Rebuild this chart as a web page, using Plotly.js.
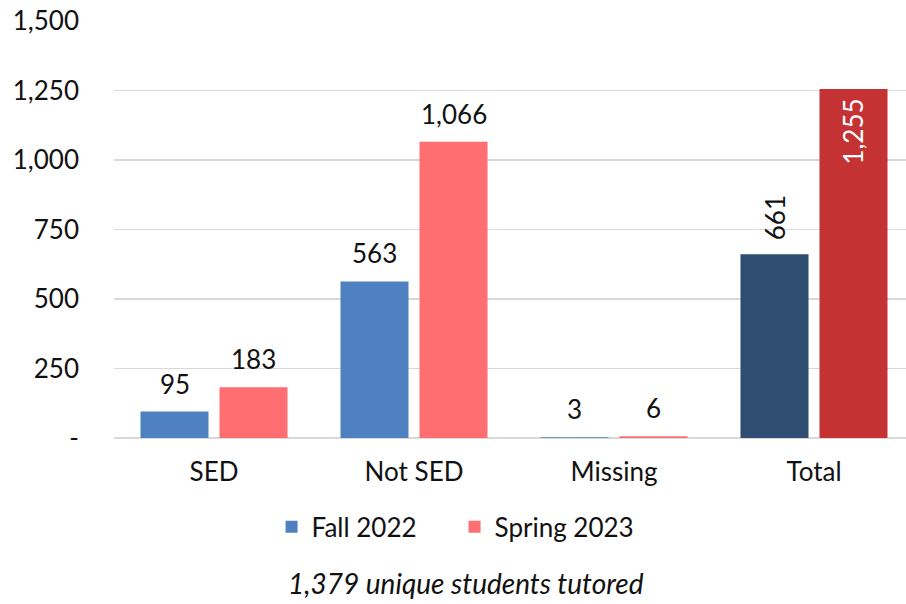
<!DOCTYPE html>
<html>
<head>
<meta charset="utf-8">
<script src="https://cdn.plot.ly/plotly-3.0.1.min.js"></script>
<style>
  html, body { margin: 0; padding: 0; background: #fff; }
  #chart { width: 906px; height: 604px; }
</style>
</head>
<body>
<div id="chart"></div>
<script>
// Students tutored by economic status, fall vs. spring
const categories = ['SED', 'Not SED', 'Missing', 'Total'];
const fall2022 = [95, 563, 3, 661];
const spring2023 = [183, 1066, 6, 1255];
const seriesNames = ['Fall 2022', 'Spring 2023'];
const yTickValues = [0, 250, 500, 750, 1000, 1250, 1500];
const yTickLabels = ['-', '250', '500', '750', '1,000', '1,250', '1,500'];
const caption = '1,379 unique students tutored';

const FONT = 'Lato, "Open Sans", sans-serif';
const FS = 26;
const fallColor = '#4F81C1', fallTotalColor = '#2F4D70';
const springColor = '#FF6E70', springTotalColor = '#C43234';

const fmt = v => v.toLocaleString('en-US');
const lastIdx = categories.length - 1;

const traces = [
  {
    type: 'bar', name: seriesNames[0], x: categories, y: fall2022,
    marker: { color: categories.map((c, i) => i === lastIdx ? fallTotalColor : fallColor) },
    hoverinfo: 'skip'
  },
  {
    type: 'bar', name: seriesNames[1], x: categories, y: spring2023,
    marker: { color: categories.map((c, i) => i === lastIdx ? springTotalColor : springColor) },
    hoverinfo: 'skip'
  }
];

// Value labels: horizontal above the bars, vertical for the totals
const annotations = [];
const offset = 39.5;
[fall2022, spring2023].forEach((vals, s) => {
  vals.forEach((v, i) => {
    const isTotal = i === lastIdx;
    const inside = isTotal && s === 1;
    annotations.push({
      x: categories[i], y: v, xref: 'x', yref: 'y',
      text: fmt(v), showarrow: false,
      xshift: s === 0 ? -offset : offset,
      yshift: inside ? -8 : (isTotal ? 12 : 10),
      yanchor: inside ? 'top' : 'bottom',
      textangle: isTotal ? -90 : 0,
      font: { family: FONT, size: FS, color: inside ? '#ffffff' : '#111111' }
    });
  });
});

annotations.push({
  xref: 'paper', yref: 'paper', x: 0.444, y: -0.348,
  xanchor: 'center', yanchor: 'middle', showarrow: false,
  text: '<i>' + caption + '</i>',
  font: { family: FONT, size: 28, color: '#111111' }
});

const layout = {
  width: 906, height: 604,
  margin: { l: 114, r: 0, t: 21, b: 166 },
  paper_bgcolor: '#ffffff', plot_bgcolor: '#ffffff',
  font: { family: FONT, size: FS, color: '#111111' },
  barmode: 'group', bargap: 0.21, bargroupgap: 0.139,
  xaxis: {
    type: 'category', range: [-0.5, 3.46],
    showgrid: false, showline: false, zeroline: false,
    ticks: '', ticklabelstandoff: 16,
    tickfont: { family: FONT, size: FS, color: '#111111' }
  },
  yaxis: {
    range: [0, 1500], tickvals: yTickValues, ticktext: yTickLabels,
    showgrid: true, gridcolor: '#D9D9D9', gridwidth: 1.5,
    zeroline: true, zerolinecolor: '#D9D9D9', zerolinewidth: 2,
    showline: false, ticks: '', ticklabelstandoff: 34,
    tickfont: { family: FONT, size: FS, color: '#111111' }
  },
  showlegend: true,
  legend: {
    orientation: 'h', x: 0.430, xanchor: 'center', y: -0.213, yanchor: 'middle',
    entrywidth: 138, entrywidthmode: 'pixels',
    font: { family: FONT, size: FS, color: '#111111' },
    bgcolor: 'rgba(0,0,0,0)'
  },
  annotations: annotations
};

Plotly.newPlot('chart', traces, layout, { staticPlot: true, displayModeBar: false });
</script>
</body>
</html>
